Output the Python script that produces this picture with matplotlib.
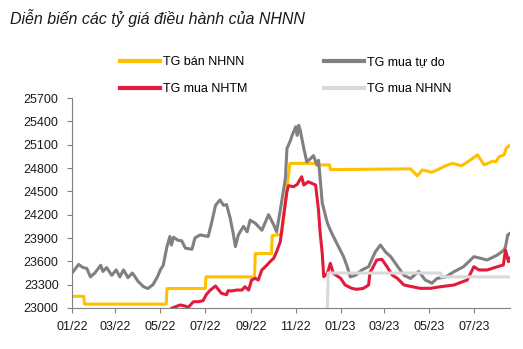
import matplotlib
matplotlib.use("Agg")
import matplotlib.pyplot as plt
import matplotlib.dates as mdates
import pandas as pd

plt.rcParams['font.family'] = ['Liberation Sans Narrow', 'Liberation Sans', 'DejaVu Sans']

# TG bán NHNN (tỷ giá bán của NHNN)
ban_nhnn_dates = ['2022-01-01', '2022-01-17', '2022-01-18', '2022-05-09', '2022-05-10',
                  '2022-07-01', '2022-07-02', '2022-09-06', '2022-09-07', '2022-09-29',
                  '2022-09-30', '2022-10-13', '2022-10-24', '2022-11-28', '2022-11-29',
                  '2022-12-17', '2022-12-18', '2023-04-06', '2023-04-15', '2023-04-22',
                  '2023-05-05', '2023-05-24', '2023-06-02', '2023-06-14', '2023-06-22',
                  '2023-07-06', '2023-07-15', '2023-07-27', '2023-07-31', '2023-08-04',
                  '2023-08-11', '2023-08-14', '2023-08-19']
ban_nhnn = [23150, 23150, 23050, 23050, 23250,
            23250, 23400, 23400, 23700, 23700,
            23930, 23950, 24860, 24860, 24840,
            24840, 24780, 24790, 24700, 24775,
            24745, 24830, 24860, 24830, 24875,
            24970, 24840, 24890, 24880, 24945,
            24970, 25055, 25095]

# TG mua tự do
tu_do_dates = ['2022-01-01', '2022-01-10', '2022-01-16', '2022-01-21', '2022-01-26',
               '2022-02-01', '2022-02-09', '2022-02-12', '2022-02-17', '2022-02-24',
               '2022-03-02', '2022-03-07', '2022-03-12', '2022-03-18', '2022-03-24',
               '2022-04-01', '2022-04-08', '2022-04-14', '2022-04-21', '2022-04-27',
               '2022-05-01', '2022-05-05', '2022-05-10', '2022-05-14', '2022-05-16',
               '2022-05-19', '2022-05-25', '2022-05-30', '2022-06-04', '2022-06-13',
               '2022-06-17', '2022-06-24', '2022-07-05', '2022-07-10', '2022-07-15',
               '2022-07-21', '2022-07-26', '2022-07-30', '2022-08-04', '2022-08-08',
               '2022-08-11', '2022-08-15', '2022-08-22', '2022-08-27', '2022-08-31',
               '2022-09-07', '2022-09-16', '2022-09-25', '2022-10-02', '2022-10-06',
               '2022-10-11', '2022-10-18', '2022-10-20', '2022-10-25', '2022-10-27',
               '2022-11-01', '2022-11-03', '2022-11-05', '2022-11-07', '2022-11-12',
               '2022-11-16', '2022-11-21', '2022-11-25', '2022-11-30', '2022-12-02',
               '2022-12-07', '2022-12-14', '2022-12-20', '2022-12-29', '2023-01-05',
               '2023-01-10', '2023-01-14', '2023-01-21', '2023-01-30', '2023-02-08',
               '2023-02-10', '2023-02-17', '2023-02-24', '2023-03-03', '2023-03-10',
               '2023-03-19', '2023-03-28', '2023-04-06', '2023-04-17', '2023-04-26',
               '2023-05-05', '2023-05-12', '2023-05-24', '2023-06-04', '2023-06-17',
               '2023-07-01', '2023-07-10', '2023-07-19', '2023-08-02', '2023-08-11',
               '2023-08-13', '2023-08-16', '2023-08-19']
tu_do = [23450, 23560, 23520, 23510, 23400,
         23450, 23550, 23470, 23520, 23420,
         23490, 23400, 23490, 23390, 23450,
         23340, 23275, 23250, 23300, 23400,
         23490, 23550, 23790, 23920, 23810,
         23910, 23870, 23865, 23770, 23755,
         23900, 23940, 23920, 24110, 24320,
         24390, 24320, 24330, 24150, 23960,
         23790, 23940, 24050, 23980, 24130,
         24090, 24000, 24200, 24070, 23980,
         24260, 24670, 25050, 25160, 25220,
         25330, 25220, 25350, 25290, 25050,
         24880, 24920, 24960, 24840, 24900,
         24350, 24090, 23960, 23790, 23660,
         23530, 23400, 23420, 23490, 23530,
         23575, 23720, 23810, 23720, 23660,
         23540, 23420, 23380, 23470, 23360,
         23320, 23380, 23400, 23467, 23531,
         23660, 23640, 23617, 23681, 23746,
         23788, 23939, 23960]

# TG mua NHTM
nhtm_dates = ['2022-05-17', '2022-05-28', '2022-06-03', '2022-06-08', '2022-06-15',
              '2022-06-22', '2022-06-28', '2022-07-03', '2022-07-08', '2022-07-15',
              '2022-07-23', '2022-07-30', '2022-08-01', '2022-08-06', '2022-08-13',
              '2022-08-20', '2022-08-24', '2022-08-29', '2022-09-02', '2022-09-07',
              '2022-09-11', '2022-09-16', '2022-09-23', '2022-09-27', '2022-10-02',
              '2022-10-06', '2022-10-11', '2022-10-15', '2022-10-20', '2022-10-22',
              '2022-10-29', '2022-11-03', '2022-11-09', '2022-11-12', '2022-11-18',
              '2022-11-23', '2022-11-28', '2022-12-02', '2022-12-04', '2022-12-07',
              '2022-12-09', '2022-12-14', '2022-12-18', '2022-12-22', '2023-01-01',
              '2023-01-07', '2023-01-16', '2023-01-23', '2023-02-01', '2023-02-08',
              '2023-02-10', '2023-02-12', '2023-02-19', '2023-02-26', '2023-03-05',
              '2023-03-12', '2023-03-19', '2023-03-28', '2023-04-08', '2023-04-19',
              '2023-05-03', '2023-05-17', '2023-06-04', '2023-06-22', '2023-07-01',
              '2023-07-08', '2023-07-19', '2023-08-02', '2023-08-10', '2023-08-13',
              '2023-08-17', '2023-08-19']
nhtm = [23000, 23039, 23026, 23010, 23081,
        23081, 23094, 23180, 23231, 23283,
        23189, 23170, 23223, 23219, 23231,
        23231, 23274, 23231, 23360, 23382,
        23360, 23489, 23553, 23596, 23639,
        23724, 23853, 24153, 24496, 24573,
        24560, 24590, 24688, 24581, 24624,
        24603, 24581, 24250, 23981, 23700,
        23403, 23446, 23574, 23446, 23382,
        23296, 23253, 23240, 23253, 23296,
        23467, 23489, 23617, 23626, 23531,
        23424, 23382, 23296, 23274, 23253,
        23253, 23274, 23296, 23360, 23531,
        23489, 23489, 23531, 23553, 23746,
        23596, 23639]

# TG mua NHNN
mua_nhnn_dates = ['2022-12-14', '2022-12-15', '2023-05-17', '2023-05-18', '2023-08-19']
mua_nhnn = [23000, 23450, 23450, 23400, 23400]

yticks = list(range(23000, 25701, 300))

fig = plt.figure(figsize=(5.23, 3.49), dpi=100)
ax = fig.add_axes([0.1377, 0.1175, 0.8373, 0.6015])

ax.plot(pd.to_datetime(ban_nhnn_dates), ban_nhnn, color='#FFC000', lw=2.2, label='TG bán NHNN')
ax.plot(pd.to_datetime(tu_do_dates), tu_do, color='#808080', lw=2.2, label='TG mua tự do')
ax.plot(pd.to_datetime(nhtm_dates), nhtm, color='#E31B3B', lw=2.2, label='TG mua NHTM')
ax.plot(pd.to_datetime(mua_nhnn_dates), mua_nhnn, color='#D9D9D9', lw=2.2, label='TG mua NHNN')

ax.set_xlim(pd.Timestamp('2022-01-01'), pd.Timestamp('2023-08-19'))
ax.set_ylim(23000, 25700)
ax.set_yticks(yticks)
ax.xaxis.set_major_locator(mdates.MonthLocator(bymonth=[1, 3, 5, 7, 9, 11]))
ax.xaxis.set_major_formatter(mdates.DateFormatter('%m/%y'))

for s in ['top', 'right']:
    ax.spines[s].set_visible(False)
for s in ['left', 'bottom']:
    ax.spines[s].set_color('#808080')
    ax.spines[s].set_linewidth(0.8)
ax.tick_params(axis='both', colors='#808080', labelcolor='#1a1a1a', labelsize=9,
               length=3.6, width=0.8, pad=6)

h, l = ax.get_legend_handles_labels()
order = [0, 2, 1, 3]
leg = fig.legend([h[i] for i in order], [l[i] for i in order], ncol=2, frameon=False,
                 loc='upper left', bbox_to_anchor=(120 / 523, 1 - 56 / 349),
                 fontsize=9, handlelength=3.2, handletextpad=0.25,
                 columnspacing=6.1, labelspacing=1.2, borderpad=0, borderaxespad=0)
for line in leg.get_lines():
    line.set_linewidth(3)

fig.text(10 / 523, 1 - 18 / 349, 'Diễn biến các tỷ giá điều hành của NHNN',
         style='italic', fontsize=11.5, va='center', ha='left', color='#1a1a1a')

fig.savefig('out.png', dpi=100)
